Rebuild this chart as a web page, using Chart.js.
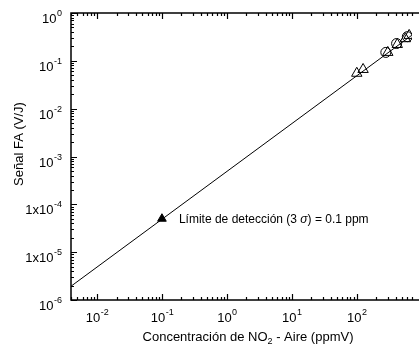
<!DOCTYPE html>
<html>
<head>
<meta charset="utf-8">
<script src="https://cdn.jsdelivr.net/npm/chart.js@4"></script>
<style>
  html, body { margin: 0; padding: 0; background: #fff; }
  canvas { display: block; }
</style>
</head>
<body>
<canvas id="faChart" width="419" height="345"></canvas>
<script>
// fit line (slope 1 on log-log)
const lineX = [0.004, 700];
const lineY = [1.95e-6, 0.341];

// measured points, NO2 in air
const triX = [100, 125, 300, 420, 560, 640];
const triY = [0.055, 0.066, 0.15, 0.22, 0.29, 0.34];
const circX = [280, 410, 600];
const circY = [0.15, 0.23, 0.32];

// detection limit
const limX = [0.1];
const limY = [5e-5];
const limText = ['Límite de detección (3 ', 'σ', ') = 0.1 ppm'];

const xTickValues = [0.01, 0.1, 1, 10, 100];
const xTickBase = ['10', '10', '10', '10', '10'];
const xTickExp = ['-2', '-1', '0', '1', '2'];
const yTickValues = [1, 0.1, 0.01, 0.001, 1e-4, 1e-5, 1e-6];
const yTickBase = ['10', '10', '10', '10', '1x10', '1x10', '10'];
const yTickExp = ['0', '-1', '-2', '-3', '-4', '-5', '-6'];

const xTitle = ['Concentración de NO', '2', ' - Aire (ppmV)'];
const yTitle = 'Señal FA (V/J)';

const FONT = '"Liberation Sans", Arial, sans-serif';

function pts(xs, ys) {
    return xs.map((x, i) => ({ x: x, y: ys[i] }));
}

const framePlugin = {
    id: 'frame',
    beforeDraw(chart) {
        const ctx = chart.ctx;
        ctx.save();
        ctx.fillStyle = '#fff';
        ctx.fillRect(0, 0, chart.width, chart.height);
        ctx.restore();
    },
    afterDraw(chart) {
        const ctx = chart.ctx;
        const a = chart.chartArea;
        const xs = chart.scales.x;
        const ys = chart.scales.y;
        ctx.save();
        ctx.strokeStyle = '#000';
        ctx.lineWidth = 1.5;
        ctx.beginPath();
        ctx.moveTo(chart.width, a.top);
        ctx.lineTo(a.left, a.top);
        ctx.lineTo(a.left, a.bottom);
        ctx.lineTo(chart.width, a.bottom);
        ctx.stroke();

        // inward ticks, log minor ticks
        ctx.lineWidth = 1.2;
        ctx.beginPath();
        for (let d = -4; d <= 3; d++) {
            for (let m = 1; m <= 9; m++) {
                const v = m * Math.pow(10, d);
                const len = m === 1 ? 6 : 3;
                if (v >= xs.min && v <= xs.max) {
                    const px = Math.round(xs.getPixelForValue(v)) + 0.5;
                    ctx.moveTo(px, a.bottom);
                    ctx.lineTo(px, a.bottom - len);
                    ctx.moveTo(px, a.top);
                    ctx.lineTo(px, a.top + len);
                }
            }
        }
        for (let d = -7; d <= 0; d++) {
            for (let m = 1; m <= 9; m++) {
                const v = m * Math.pow(10, d);
                const len = m === 1 ? 6 : 3;
                if (v >= ys.min && v <= ys.max) {
                    const py = Math.round(ys.getPixelForValue(v)) + 0.5;
                    ctx.moveTo(a.left, py);
                    ctx.lineTo(a.left + len, py);
                }
            }
        }
        ctx.stroke();

        ctx.fillStyle = '#000';
        ctx.textBaseline = 'alphabetic';
        const big = '13px ' + FONT;
        const small = '9px ' + FONT;

        // x tick labels
        xTickValues.forEach((v, i) => {
            const px = xs.getPixelForValue(v);
            ctx.font = big;
            const wb = ctx.measureText(xTickBase[i]).width;
            ctx.font = small;
            const we = ctx.measureText(xTickExp[i]).width;
            const x0 = px - (wb + we) / 2;
            ctx.font = big;
            ctx.textAlign = 'left';
            ctx.fillText(xTickBase[i], x0, a.bottom + 22);
            ctx.font = small;
            ctx.fillText(xTickExp[i], x0 + wb + 0.5, a.bottom + 15);
        });

        // y tick labels
        yTickValues.forEach((v, i) => {
            const py = ys.getPixelForValue(v);
            ctx.font = small;
            ctx.textAlign = 'right';
            const we = ctx.measureText(yTickExp[i]).width;
            ctx.fillText(yTickExp[i], a.left - 9, py + 3);
            ctx.font = big;
            ctx.fillText(yTickBase[i], a.left - 9 - we - 0.5, py + 10);
        });

        // axis titles
        ctx.font = big;
        ctx.textAlign = 'left';
        const w1 = ctx.measureText(xTitle[0]).width;
        const w3 = ctx.measureText(xTitle[2]).width;
        ctx.font = small;
        const w2 = ctx.measureText(xTitle[1]).width;
        let tx = 248 - (w1 + w2 + w3) / 2;
        ctx.font = big;
        ctx.fillText(xTitle[0], tx, 341);
        ctx.font = small;
        ctx.fillText(xTitle[1], tx + w1, 344);
        ctx.font = big;
        ctx.fillText(xTitle[2], tx + w1 + w2, 341);

        ctx.save();
        ctx.translate(23, 144);
        ctx.rotate(-Math.PI / 2);
        ctx.textAlign = 'center';
        ctx.fillText(yTitle, 0, 0);
        ctx.restore();

        // annotation next to detection limit, sigma in italics
        const lx = xs.getPixelForValue(limX[0]);
        const ly = ys.getPixelForValue(limY[0]);
        let ax = lx + 17;
        const fonts = ['12px ' + FONT, 'italic 12px ' + FONT, '12px ' + FONT];
        limText.forEach((part, i) => {
            ctx.font = fonts[i];
            ctx.fillText(part, ax, ly + 4);
            ax += ctx.measureText(part).width;
        });
        ctx.restore();
    }
};

new Chart(document.getElementById('faChart'), {
    type: 'scatter',
    data: {
        datasets: [
            {
                label: 'ajuste',
                data: pts(lineX, lineY),
                showLine: true,
                borderColor: '#000',
                borderWidth: 1,
                pointRadius: 0
            },
            {
                label: 'NO2 triangulos',
                data: pts(triX, triY),
                pointStyle: 'triangle',
                pointRadius: 6,
                borderColor: '#000',
                borderWidth: 1,
                backgroundColor: 'rgba(255,255,255,0)'
            },
            {
                label: 'NO2 circulos',
                data: pts(circX, circY),
                pointStyle: 'circle',
                pointRadius: 5,
                borderColor: '#000',
                borderWidth: 1,
                backgroundColor: 'rgba(255,255,255,0)'
            },
            {
                label: 'limite',
                data: pts(limX, limY),
                pointStyle: 'triangle',
                pointRadius: 5,
                borderColor: '#000',
                borderWidth: 1,
                backgroundColor: '#000'
            }
        ]
    },
    options: {
        responsive: false,
        devicePixelRatio: 1,
        animation: false,
        layout: {
            padding: { left: 71, top: 13, right: 0, bottom: 45 }
        },
        plugins: {
            legend: { display: false },
            tooltip: { enabled: false }
        },
        scales: {
            x: {
                type: 'logarithmic',
                min: 0.00398,
                max: 708,
                display: false
            },
            y: {
                type: 'logarithmic',
                min: 1e-6,
                max: 1,
                display: false
            }
        }
    },
    plugins: [framePlugin]
});
</script>
</body>
</html>
